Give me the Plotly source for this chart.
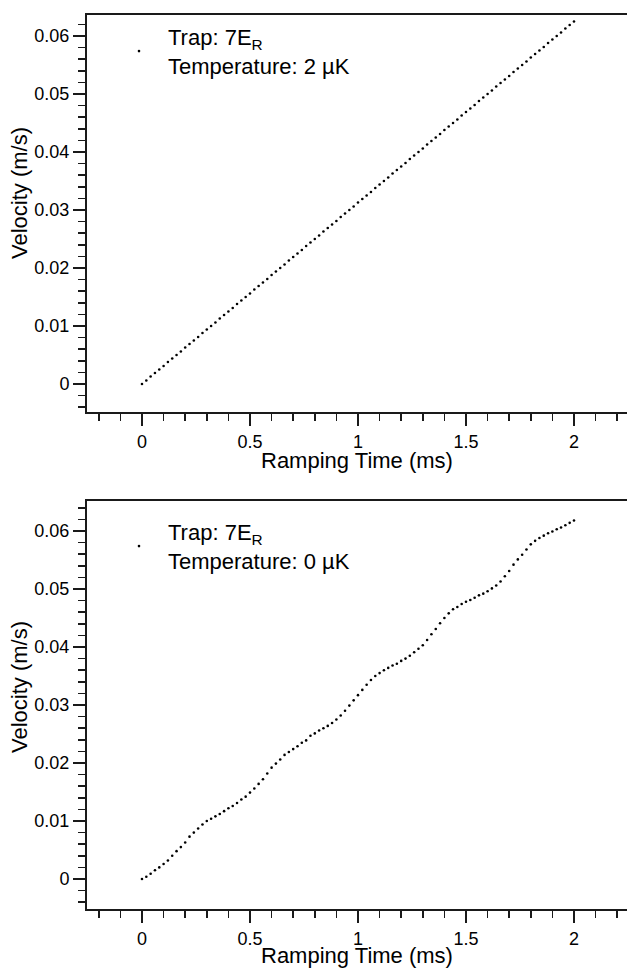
import plotly.graph_objects as go

# Ramping time (ms)
time_ms = [0.00, 0.02, 0.04, 0.06, 0.08, 0.10, 0.12, 0.14, 0.16, 0.18,
           0.20, 0.22, 0.24, 0.26, 0.28, 0.30, 0.32, 0.34, 0.36, 0.38,
           0.40, 0.42, 0.44, 0.46, 0.48, 0.50, 0.52, 0.54, 0.56, 0.58,
           0.60, 0.62, 0.64, 0.66, 0.68, 0.70, 0.72, 0.74, 0.76, 0.78,
           0.80, 0.82, 0.84, 0.86, 0.88, 0.90, 0.92, 0.94, 0.96, 0.98,
           1.00, 1.02, 1.04, 1.06, 1.08, 1.10, 1.12, 1.14, 1.16, 1.18,
           1.20, 1.22, 1.24, 1.26, 1.28, 1.30, 1.32, 1.34, 1.36, 1.38,
           1.40, 1.42, 1.44, 1.46, 1.48, 1.50, 1.52, 1.54, 1.56, 1.58,
           1.60, 1.62, 1.64, 1.66, 1.68, 1.70, 1.72, 1.74, 1.76, 1.78,
           1.80, 1.82, 1.84, 1.86, 1.88, 1.90, 1.92, 1.94, 1.96, 1.98,
           2.00]

# Velocity (m/s), trap 7 E_R, temperature 2 uK
velocity_2uK = [0.0000, 0.0006, 0.0013, 0.0019, 0.0025, 0.0031, 0.0038, 0.0044, 0.0050, 0.0056,
                0.0063, 0.0069, 0.0075, 0.0081, 0.0088, 0.0094, 0.0100, 0.0106, 0.0113, 0.0119,
                0.0125, 0.0131, 0.0138, 0.0144, 0.0150, 0.0156, 0.0163, 0.0169, 0.0175, 0.0181,
                0.0188, 0.0194, 0.0200, 0.0206, 0.0213, 0.0219, 0.0225, 0.0231, 0.0238, 0.0244,
                0.0250, 0.0256, 0.0263, 0.0269, 0.0275, 0.0281, 0.0288, 0.0294, 0.0300, 0.0306,
                0.0313, 0.0319, 0.0325, 0.0331, 0.0338, 0.0344, 0.0350, 0.0356, 0.0363, 0.0369,
                0.0375, 0.0381, 0.0388, 0.0394, 0.0400, 0.0406, 0.0413, 0.0419, 0.0425, 0.0431,
                0.0438, 0.0444, 0.0450, 0.0456, 0.0463, 0.0469, 0.0475, 0.0481, 0.0488, 0.0494,
                0.0500, 0.0506, 0.0513, 0.0519, 0.0525, 0.0531, 0.0538, 0.0544, 0.0550, 0.0556,
                0.0563, 0.0569, 0.0575, 0.0581, 0.0588, 0.0594, 0.0600, 0.0606, 0.0613, 0.0619,
                0.0625]

# Velocity (m/s), trap 7 E_R, temperature 0 uK
velocity_0uK = [0.0000, 0.0004, 0.0009, 0.0015, 0.0020, 0.0026, 0.0032, 0.0040, 0.0048, 0.0055,
                0.0063, 0.0073, 0.0080, 0.0087, 0.0094, 0.0100, 0.0104, 0.0108, 0.0112, 0.0117,
                0.0122, 0.0126, 0.0131, 0.0137, 0.0142, 0.0149, 0.0156, 0.0164, 0.0172, 0.0182,
                0.0192, 0.0199, 0.0206, 0.0214, 0.0219, 0.0224, 0.0229, 0.0235, 0.0239, 0.0247,
                0.0251, 0.0256, 0.0260, 0.0264, 0.0269, 0.0275, 0.0282, 0.0290, 0.0299, 0.0308,
                0.0317, 0.0326, 0.0335, 0.0343, 0.0350, 0.0355, 0.0360, 0.0364, 0.0368, 0.0371,
                0.0376, 0.0380, 0.0385, 0.0391, 0.0397, 0.0403, 0.0412, 0.0422, 0.0431, 0.0441,
                0.0450, 0.0458, 0.0465, 0.0469, 0.0474, 0.0478, 0.0481, 0.0485, 0.0489, 0.0492,
                0.0496, 0.0501, 0.0506, 0.0513, 0.0522, 0.0531, 0.0542, 0.0551, 0.0559, 0.0568,
                0.0577, 0.0583, 0.0588, 0.0592, 0.0596, 0.0599, 0.0603, 0.0606, 0.0610, 0.0614,
                0.0618]

legend_top = "Trap: 7E<sub>R</sub><br>Temperature: 2 µK"
legend_bottom = "Trap: 7E<sub>R</sub><br>Temperature: 0 µK"
x_title = "Ramping Time (ms)"
y_title = "Velocity (m/s)"

W, H = 627, 969
FONT = "Liberation Sans, Arial, Helvetica, sans-serif"
INK = "#1a1a1a"

def py(px):
    return 1 - px / H

fig = go.Figure()
fig.add_trace(go.Scatter(x=time_ms, y=velocity_2uK, mode="markers",
                         marker=dict(size=2.6, color="black"),
                         name=legend_top, xaxis="x", yaxis="y", legend="legend"))
fig.add_trace(go.Scatter(x=time_ms, y=velocity_0uK, mode="markers",
                         marker=dict(size=2.6, color="black"),
                         name=legend_bottom, xaxis="x2", yaxis="y2", legend="legend2"))

xax = dict(range=[-0.2546, 2.2454], tick0=0, dtick=0.5, ticks="outside", ticklen=12,
           tickwidth=1.5, tickcolor=INK, showline=True, linewidth=2, linecolor=INK,
           mirror=True, showgrid=False, zeroline=False,
           tickfont=dict(family=FONT, size=18, color="black"),
           minor=dict(dtick=0.1, tick0=0, ticks="outside", ticklen=7, tickwidth=1.5,
                      tickcolor=INK, showgrid=False),
           domain=[87 / W, 1])
yax = dict(tick0=0, dtick=0.01, ticks="outside", ticklen=12, tickwidth=1.5, tickcolor=INK,
           showline=True, linewidth=2, linecolor=INK, showgrid=False, zeroline=False,
           tickfont=dict(family=FONT, size=18, color="black"),
           minor=dict(dtick=0.002, tick0=0, ticks="outside", ticklen=7, tickwidth=1.5,
                      tickcolor=INK, showgrid=False))

legend_style = dict(xanchor="left", yanchor="top", bgcolor="rgba(0,0,0,0)", borderwidth=0,
                    itemwidth=48, valign="middle",
                    font=dict(family=FONT, size=22, color="black"))

fig.update_layout(
    width=W, height=H, autosize=False,
    margin=dict(l=0, r=0, t=0, b=0, pad=0),
    paper_bgcolor="white", plot_bgcolor="white",
    font=dict(family=FONT, color="black"),
    xaxis=dict(xax, anchor="y"),
    yaxis=dict(yax, range=[-0.00483, 0.06362], domain=[py(412), py(15)], anchor="x"),
    xaxis2=dict(xax, anchor="y2"),
    yaxis2=dict(yax, range=[-0.00517, 0.06517], domain=[py(909), py(501)], anchor="x2"),
    legend=dict(legend_style, x=110 / W, y=py(16)),
    legend2=dict(legend_style, x=110 / W, y=py(511)),
    showlegend=True,
    annotations=[
        dict(text=x_title, xref="paper", yref="paper", x=357 / W, y=py(460),
             xanchor="center", yanchor="middle", showarrow=False,
             font=dict(family=FONT, size=22, color="black")),
        dict(text=y_title, xref="paper", yref="paper", x=19 / W, y=py(193),
             xanchor="center", yanchor="middle", showarrow=False, textangle=-90,
             font=dict(family=FONT, size=22, color="black")),
        dict(text=x_title, xref="paper", yref="paper", x=357 / W, y=py(955),
             xanchor="center", yanchor="middle", showarrow=False,
             font=dict(family=FONT, size=22, color="black")),
        dict(text=y_title, xref="paper", yref="paper", x=19 / W, y=py(687),
             xanchor="center", yanchor="middle", showarrow=False, textangle=-90,
             font=dict(family=FONT, size=22, color="black")),
    ],
)

fig.write_html("out.html", config={"displayModeBar": False, "staticPlot": True})

# remove the browser's default page margin so the figure sits at the window origin
with open("out.html", "r", encoding="utf-8") as fh:
    page = fh.read()
page = page.replace("<head>", "<head><style>html,body{margin:0;padding:0;overflow:hidden;}</style>", 1)
with open("out.html", "w", encoding="utf-8") as fh:
    fh.write(page)
